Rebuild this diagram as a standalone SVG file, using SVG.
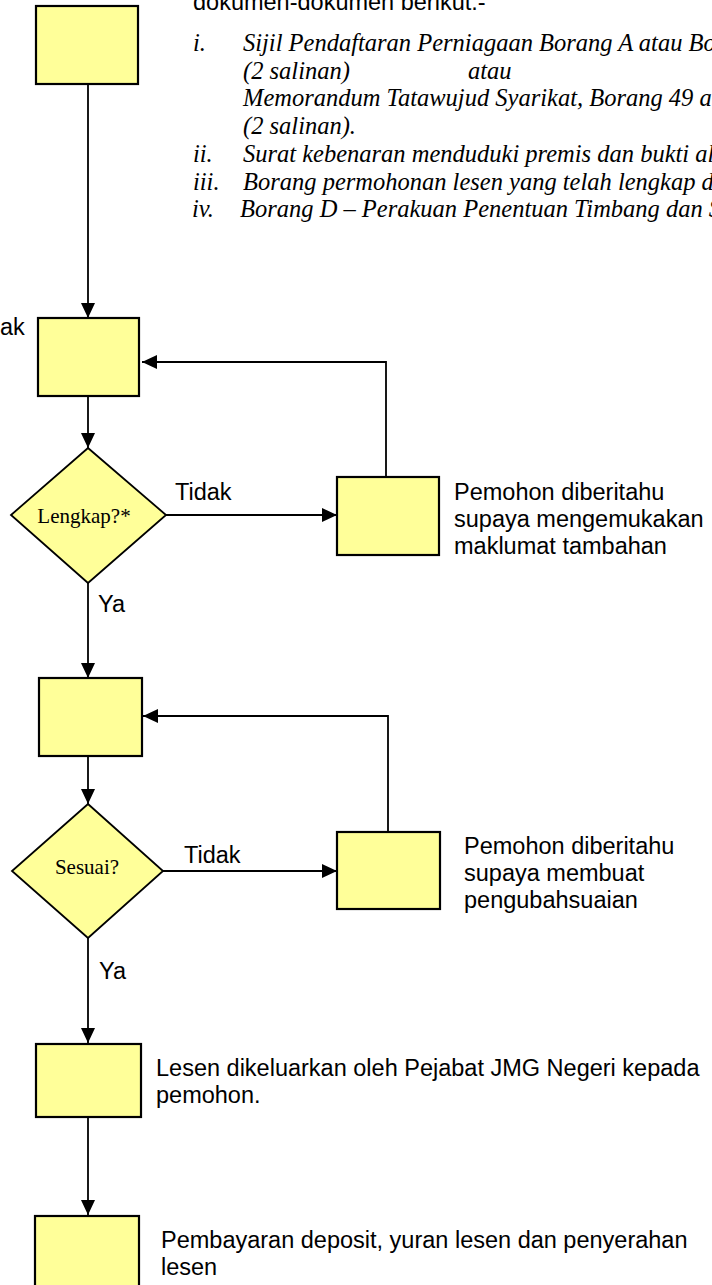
<svg xmlns="http://www.w3.org/2000/svg" width="712" height="1285" viewBox="0 0 712 1285">
<style>
.box{fill:#FFFF99;stroke:#000;stroke-width:2.2}
.dia{fill:#FFFF99;stroke:#000;stroke-width:1.8}
.con{fill:none;stroke:#000;stroke-width:1.8}
.sans{font-family:"Liberation Sans",Arial,sans-serif;font-size:23.5px;fill:#000}
.ser{font-family:"Liberation Serif","Times New Roman",serif;font-size:21px;fill:#000}
.it{font-family:"Liberation Serif","Times New Roman",serif;font-size:24.5px;font-style:italic;fill:#000}
</style>
<defs>
<marker id="ah" markerUnits="userSpaceOnUse" markerWidth="16" markerHeight="16" refX="15" refY="7" orient="auto">
<path d="M0,0 L15,7 L0,14 Z" fill="#000"/>
</marker>
</defs>
<g id="intro">
<text class="sans" x="193" y="10">dokumen-dokumen berikut.-</text>
<text class="it" x="193" y="51">i.</text>
<text class="it" x="243" y="51">Sijil Pendaftaran Perniagaan Borang A atau Bo</text>
<text class="it" x="243" y="78.7">(2 salinan)</text>
<text class="it" x="468" y="78.7">atau</text>
<text class="it" x="243" y="106.4">Memorandum Tatawujud Syarikat, Borang 49 a</text>
<text class="it" x="243" y="134.1">(2 salinan).</text>
<text class="it" x="193" y="161.8">ii.</text>
<text class="it" x="243" y="161.8">Surat kebenaran menduduki premis dan bukti ala</text>
<text class="it" x="193" y="189.5">iii.</text>
<text class="it" x="243" y="189.5">Borang permohonan lesen yang telah lengkap di</text>
<text class="it" x="192" y="217.2">iv.</text>
<text class="it" x="240" y="217.2">Borang D – Perakuan Penentuan Timbang dan S</text>
</g>
<g id="connectors">
<path class="con" d="M88,84 V318" marker-end="url(#ah)"/>
<path class="con" d="M88,396 V448" marker-end="url(#ah)"/>
<path class="con" d="M166,515 H337" marker-end="url(#ah)"/>
<path class="con" d="M386,477 V362 H142" marker-end="url(#ah)"/>
<path class="con" d="M88,583 V678" marker-end="url(#ah)"/>
<path class="con" d="M88,756 V804" marker-end="url(#ah)"/>
<path class="con" d="M163,871 H337" marker-end="url(#ah)"/>
<path class="con" d="M388,832 V716 H143" marker-end="url(#ah)"/>
<path class="con" d="M88,938 V1043" marker-end="url(#ah)"/>
<path class="con" d="M88,1117 V1215" marker-end="url(#ah)"/>
</g>
<g id="labels">
<text class="sans" x="0" y="335">ak</text>
<text class="sans" x="175" y="500">Tidak</text>
<text class="sans" x="98" y="612">Ya</text>
<text class="sans" x="184" y="863">Tidak</text>
<text class="sans" x="99" y="979">Ya</text>
</g>
<g id="n1"><rect class="box" x="36" y="6" width="102" height="78"/></g>
<g id="n2"><rect class="box" x="38" y="318" width="101" height="78"/></g>
<g id="d1">
<polygon class="dia" points="88,448 166,515 88,583 11,515"/>
<text class="ser" x="84" y="523" text-anchor="middle">Lengkap?*</text>
</g>
<g id="r1">
<rect class="box" x="337" y="477" width="102" height="78"/>
<text class="sans" x="454" y="500">Pemohon diberitahu</text>
<text class="sans" x="454" y="527">supaya mengemukakan</text>
<text class="sans" x="454" y="554">maklumat tambahan</text>
</g>
<g id="n3"><rect class="box" x="39" y="678" width="103" height="78"/></g>
<g id="d2">
<polygon class="dia" points="88,804 163,871 88,938 12,871"/>
<text class="ser" x="87" y="874" text-anchor="middle">Sesuai?</text>
</g>
<g id="r2">
<rect class="box" x="337" y="832" width="103" height="77"/>
<text class="sans" x="464" y="854">Pemohon diberitahu</text>
<text class="sans" x="464" y="881">supaya membuat</text>
<text class="sans" x="464" y="908">pengubahsuaian</text>
</g>
<g id="n5">
<rect class="box" x="36" y="1044" width="105" height="73"/>
<text class="sans" x="156" y="1076">Lesen dikeluarkan oleh Pejabat JMG Negeri kepada</text>
<text class="sans" x="156" y="1103">pemohon.</text>
</g>
<g id="n6">
<rect class="box" x="35" y="1216" width="104" height="80"/>
<text class="sans" x="161" y="1248">Pembayaran deposit, yuran lesen dan penyerahan</text>
<text class="sans" x="161" y="1275">lesen</text>
</g>
</svg>
